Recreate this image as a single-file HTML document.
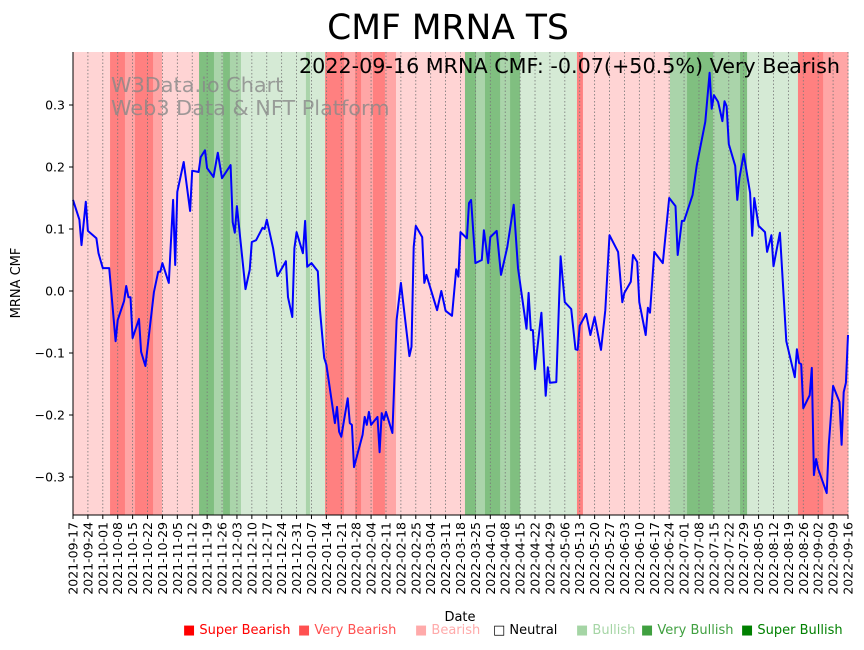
<!DOCTYPE html>
<html><head><meta charset="utf-8">
<style>
body{margin:0;background:#fff;font-family:"DejaVu Sans","Liberation Sans",sans-serif;}
svg text{font-family:"DejaVu Sans","Liberation Sans",sans-serif;}
</style></head>
<body>
<svg id="chart" width="864" height="646" viewBox="0 0 864 646" xmlns="http://www.w3.org/2000/svg">
<g id="bands"></g>
<g id="grid"></g>
<text x="111" y="92" font-size="20.8" fill="#888" fill-opacity="0.8">W3Data.io Chart</text>
<text x="111" y="115" font-size="20.8" fill="#888" fill-opacity="0.8">Web3 Data &amp; NFT Platform</text>
<g id="line"></g>
<g id="axes"></g>
<text x="448" y="39" font-size="34.5" text-anchor="middle">CMF MRNA TS</text>
<text x="840" y="73" font-size="20.7" text-anchor="end">2022-09-16 MRNA CMF: -0.07(+50.5%) Very Bearish</text>
<text transform="translate(20,283) rotate(-90)" font-size="13" text-anchor="middle">MRNA CMF</text>
<text x="460" y="621" font-size="13" text-anchor="middle">Date</text>
<g id="legend" font-size="13">
<text x="183" y="634" fill="#ff0000">■ Super Bearish</text>
<text x="298" y="634" fill="#ff5050">■ Very Bearish</text>
<text x="415" y="634" fill="#ffaaaa">■ Bearish</text>
<text x="493" y="634" fill="#000">□ Neutral</text>
<text x="576" y="634" fill="#a5d5a5">■ Bullish</text>
<text x="641" y="634" fill="#40a040">■ Very Bullish</text>
<text x="741" y="634" fill="#008000">■ Super Bullish</text>
</g>
</svg>
<script>
const days=[0,3,4,6,7,11,12,14,17,20,21,24,25,26,27,28,31,32,34,38,40,41,42,45,47,48,49,52,55,56,59,60,62,63,66,68,70,74,75,76,77,81,83,84,86,89,90,91,94,96,100,101,103,104,105,108,109,110,112,115,116,118,119,123,124,125,126,129,130,131,132,136,137,138,139,140,143,144,145,146,147,150,152,154,158,159,160,161,164,165,166,171,173,175,178,180,181,182,185,186,187,189,192,193,195,196,199,201,204,207,209,213,214,215,216,217,220,222,223,224,227,229,231,234,236,237,238,241,243,245,248,250,252,256,258,259,262,263,265,266,269,270,271,273,277,280,283,284,286,287,291,293,297,299,300,301,303,305,306,307,308,311,312,313,315,318,319,320,322,325,326,328,329,332,335,339,340,341,342,343,346,347,348,349,350,354,355,357,360,361,362,363,364];
const cmfValues=[0.147,0.115,0.074,0.144,0.097,0.085,0.061,0.037,0.037,-0.081,-0.047,-0.016,0.008,-0.010,-0.010,-0.076,-0.045,-0.098,-0.121,-0.002,0.031,0.031,0.045,0.013,0.147,0.042,0.160,0.208,0.129,0.194,0.192,0.216,0.227,0.198,0.184,0.223,0.182,0.203,0.111,0.094,0.137,0.003,0.034,0.079,0.082,0.102,0.100,0.115,0.069,0.024,0.048,-0.010,-0.042,0.069,0.095,0.061,0.113,0.039,0.045,0.032,-0.031,-0.108,-0.119,-0.213,-0.187,-0.227,-0.235,-0.173,-0.213,-0.216,-0.284,-0.232,-0.203,-0.216,-0.195,-0.216,-0.203,-0.260,-0.197,-0.208,-0.195,-0.229,-0.047,0.013,-0.105,-0.090,0.071,0.105,0.087,0.013,0.026,-0.031,0.000,-0.032,-0.040,0.035,0.023,0.095,0.085,0.142,0.147,0.045,0.050,0.098,0.045,0.087,0.097,0.026,0.071,0.139,0.037,-0.061,-0.003,-0.063,-0.063,-0.126,-0.035,-0.169,-0.123,-0.148,-0.147,0.056,-0.018,-0.029,-0.094,-0.095,-0.056,-0.037,-0.071,-0.042,-0.095,-0.031,0.090,0.063,-0.018,-0.003,0.015,0.058,0.047,-0.018,-0.071,-0.027,-0.035,0.063,0.045,0.150,0.137,0.058,0.113,0.113,0.155,0.203,0.273,0.352,0.294,0.316,0.305,0.274,0.306,0.298,0.237,0.202,0.147,0.182,0.221,0.158,0.089,0.150,0.105,0.095,0.063,0.090,0.040,0.094,-0.081,-0.139,-0.094,-0.116,-0.118,-0.189,-0.168,-0.124,-0.297,-0.271,-0.287,-0.326,-0.248,-0.153,-0.179,-0.248,-0.163,-0.148,-0.071];
const bandStart=[0,17.4,24.4,29.1,37.6,41.8,59.2,66.2,70.5,73.7,78.9,109.4,111.3,118.4,127.3,132.5,135.3,140.9,146.5,151.7,184.1,189.3,193.5,200.6,205.3,210,236.7,239.5,280.4,288.4,300.6,313.3,316.6,340.5,352.3];
const bandEnd=[17.4,24.4,29.1,37.6,41.8,59.2,66.2,70.5,73.7,78.9,109.4,111.3,118.4,127.3,132.5,135.3,140.9,146.5,151.7,184.1,189.3,193.5,200.6,205.3,210,236.7,239.5,280.4,288.4,300.6,313.3,316.6,340.5,352.3,364];
const bandLevel=["LP","SR","MR","SR","MR","LP","DG","MG","DG","MG","LG","MG","LG","SR","MR","SR","MR","SR","MR","LP","DG","MG","DG","MG","DG","LG","SR","LP","MG","DG","MG","DG","LG","SR","MR"];
const yTicks=[0.3,0.2,0.1,0.0,-0.1,-0.2,-0.3];
const tickLabels=["0.3","0.2","0.1","0.0","−0.1","−0.2","−0.3"];

const L=73,R=848,T=52,B=515,NS="http://www.w3.org/2000/svg";
const xS=d=>L+(d/364)*(R-L);
const yS=v=>291-v*620;
const colors={SR:"#ff8080",MR:"#ffa6a6",LP:"#ffd4d4",DG:"#80bf80",MG:"#aad4aa",LG:"#d5ead5"};
function mk(t,a,p){const e=document.createElementNS(NS,t);for(const k in a)e.setAttribute(k,a[k]);p.appendChild(e);return e;}
const gb=document.getElementById('bands');
for(let i=0;i<bandStart.length;i++){
 const r=mk('rect',{x:xS(bandStart[i]),y:T,width:xS(bandEnd[i])-xS(bandStart[i])+0.5,height:B-T,fill:colors[bandLevel[i]]},gb);
 
 
}
const gg=document.getElementById('grid'),ga=document.getElementById('axes');
const start=new Date(Date.UTC(2021,8,17));
for(let d=0;d<=364;d+=7){
 const x=xS(d);
 const gl=mk('line',{x1:x,x2:x,y1:T,y2:B,stroke:"#777","stroke-width":0.8,"stroke-dasharray":"1.5,2"},gg);
 
 
 mk('line',{x1:x,x2:x,y1:B,y2:B+4,stroke:"#000"},ga);
 const dt=new Date(start.getTime()+d*86400000).toISOString().slice(0,10);
 const t=mk('text',{transform:`translate(${x+4.5},${B+7}) rotate(-90)`,"font-size":12.5,"text-anchor":"end"},ga);
 t.textContent=dt;
 
 
}
yTicks.forEach((v,i)=>{
 const y=yS(v);
 mk('line',{x1:L-4,x2:L,y1:y,y2:y,stroke:"#000"},ga);
 const t=mk('text',{x:L-8,y:y+4.5,"font-size":12.5,"text-anchor":"end"},ga);
 t.textContent=tickLabels[i];
 
 
});
mk('line',{x1:L,x2:L,y1:T,y2:B,stroke:"#000","stroke-width":1},ga);
mk('line',{x1:L,x2:R,y1:B,y2:B,stroke:"#000","stroke-width":1},ga);
const pts=days.map((d,i)=>xS(d).toFixed(1)+','+yS(cmfValues[i]).toFixed(1)).join(' ');
const pl=mk('polyline',{points:pts,fill:"none",stroke:"#0000ff","stroke-width":2,"stroke-linejoin":"round"},document.getElementById('line'));


</script>
</body></html>
